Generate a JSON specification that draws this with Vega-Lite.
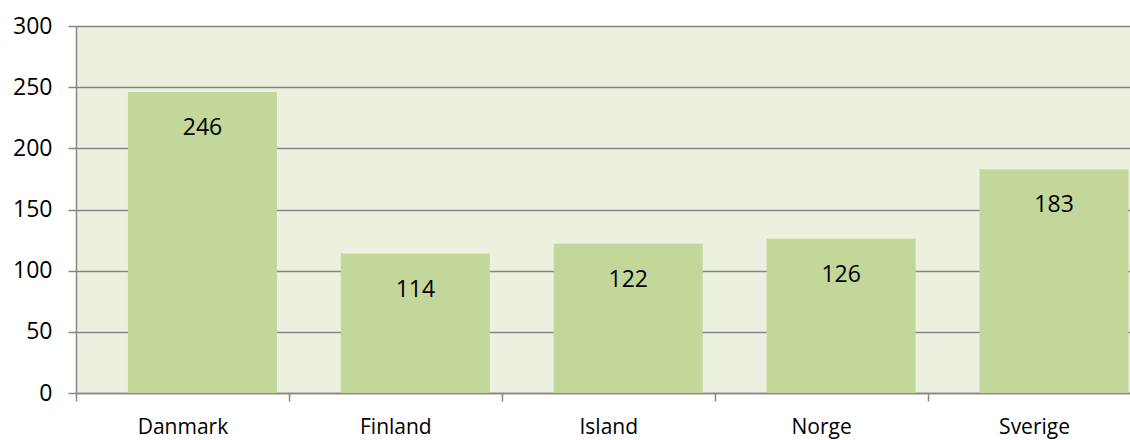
{
  "$schema": "https://vega.github.io/schema/vega-lite/v6.json",
  "autosize": {"type": "none"},
  "padding": {"left": 76, "top": 26, "right": 0, "bottom": 47},
  "width": 1054,
  "height": 367,
  "background": "white",
  "config": {
    "view": {"fill": "#EBF1DE", "stroke": null},
    "font": "Open Sans"
  },
  "data": {
    "values": [
      {"land": "Danmark", "antal": 246},
      {"land": "Finland", "antal": 114},
      {"land": "Island", "antal": 122},
      {"land": "Norge", "antal": 126},
      {"land": "Sverige", "antal": 183}
    ]
  },
  "encoding": {
    "x": {
      "field": "land",
      "type": "nominal",
      "sort": null,
      "scale": {"range": [0, 1064.5], "paddingInner": 0, "paddingOuter": 0},
      "axis": {
        "title": null,
        "labelAngle": 0,
        "labelFontSize": 21,
        "labelColor": "#000000",
        "labelPadding": 15,
        "tickBand": "extent",
        "tickSize": 8,
        "tickColor": "#868686",
        "tickWidth": 1.5,
        "domainColor": "#868686",
        "domainWidth": 1.5,
        "grid": false
      }
    },
    "y": {
      "field": "antal",
      "type": "quantitative",
      "scale": {"domain": [0, 300], "nice": false},
      "axis": {
        "title": null,
        "values": [0, 50, 100, 150, 200, 250, 300],
        "labelFontSize": 23,
        "labelColor": "#000000",
        "labelPadding": 16,
        "tickSize": 8,
        "tickColor": "#868686",
        "tickWidth": 1.5,
        "domainColor": "#868686",
        "domainWidth": 1.5,
        "grid": true,
        "gridColor": "#868686",
        "gridWidth": 1.5
      }
    }
  },
  "layer": [
    {
      "mark": {"type": "bar", "color": "#C4D79B", "width": {"band": 0.7}, "xOffset": 20},
      "encoding": {}
    },
    {
      "mark": {"type": "text", "baseline": "middle", "align": "center", "dy": 36, "xOffset": 20, "fontSize": 23, "color": "#000000"},
      "encoding": {"text": {"field": "antal", "type": "quantitative"}}
    }
  ]
}
